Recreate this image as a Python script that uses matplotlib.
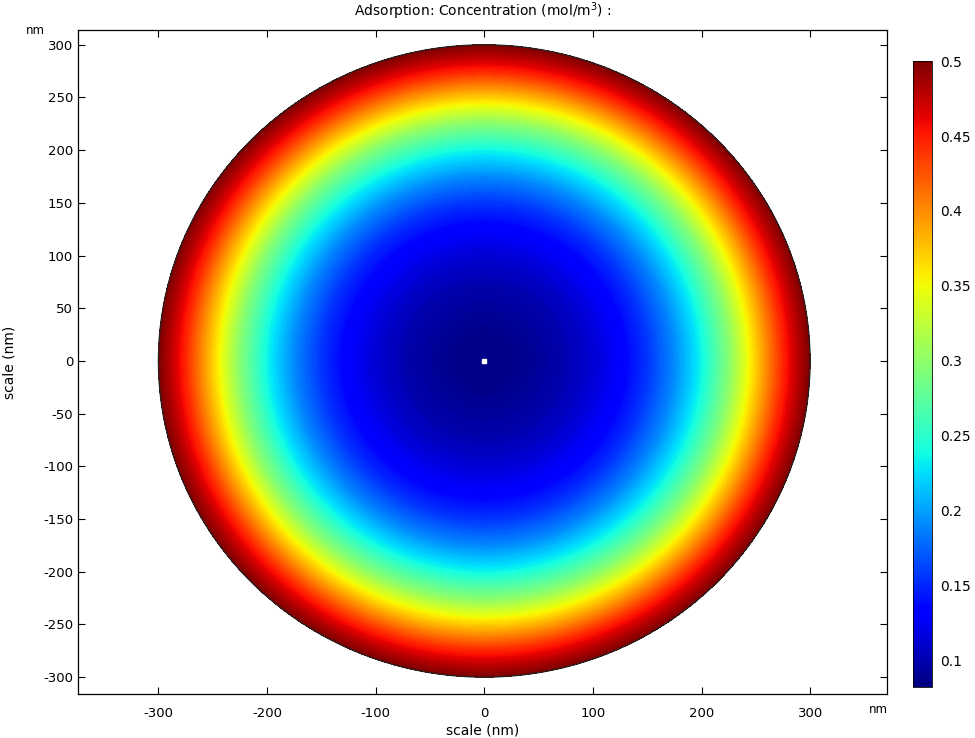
import numpy as np
import matplotlib
matplotlib.use("Agg")
import matplotlib.pyplot as plt

# radial concentration profile (disk of radius 300 nm)
radius_nm = [0, 25, 50, 75, 100, 125, 150, 175, 200, 225, 250, 275, 290, 300]
conc = [0.085, 0.087, 0.092, 0.100, 0.113, 0.130, 0.155, 0.190, 0.235,
        0.295, 0.370, 0.445, 0.480, 0.500]

XTICKS = [-300, -200, -100, 0, 100, 200, 300]
YTICKS = [-300, -250, -200, -150, -100, -50, 0, 50, 100, 150, 200, 250, 300]
CBAR_TICKS = [0.1, 0.15, 0.2, 0.25, 0.3, 0.35, 0.4, 0.45, 0.5]
VMIN, VMAX = 0.082, 0.5

plt.rcParams["font.family"] = "DejaVu Sans"
plt.rcParams["axes.unicode_minus"] = False

fig = plt.figure(figsize=(9.75, 7.38), dpi=100)
ax = fig.add_axes([0.080, 0.0596, 0.830, 0.8997])
cax = fig.add_axes([0.936, 0.069, 0.0195, 0.848])

# polar mesh, values along radius; contourf fills smoothly between rings
theta = np.linspace(0, 2 * np.pi, 361)
R, T = np.meshgrid(np.array(radius_nm, float), theta)
C = np.tile(np.array(conc, float), (len(theta), 1))
X, Y = R * np.cos(T), R * np.sin(T)
levels = np.linspace(VMIN, VMAX, 300)
cf = ax.contourf(X, Y, C, levels=levels, cmap="jet", vmin=VMIN, vmax=VMAX,
                 extend="both", zorder=1)

# thin dark boundary of the disk
ax.plot(radius_nm[-1] * np.cos(theta), radius_nm[-1] * np.sin(theta),
        color="#222222", lw=0.9, zorder=2)
# point at origin
ax.plot([0], [0], marker="s", ms=3.5, color="white", mec="white", zorder=3)

ax.set_xlim(-374, 371)
ax.set_ylim(-316, 314)
ax.set_xticks(XTICKS)
ax.set_yticks(YTICKS)
ax.tick_params(direction="in", top=True, right=True, labelsize=9.5,
               length=5, width=0.8)
ax.tick_params(axis="x", pad=9)
for s in ax.spines.values():
    s.set_linewidth(0.9)

ax.set_xlabel("scale (nm)", fontsize=10, labelpad=3)
ax.set_ylabel("scale (nm)", fontsize=10, labelpad=19)
ax.set_title("Adsorption: Concentration (mol/m$^3$) :", fontsize=10, pad=10)
fig.text(0.036, 0.959, "nm", fontsize=8.5, ha="center", va="center")
fig.text(0.901, 0.038, "nm", fontsize=8.5, ha="center", va="center")

sm = plt.cm.ScalarMappable(cmap="jet", norm=plt.Normalize(VMIN, VMAX))
cb = fig.colorbar(sm, cax=cax, ticks=CBAR_TICKS)
cb.ax.set_yticklabels([f"{t:g}" for t in CBAR_TICKS])
cb.ax.tick_params(labelsize=10, length=0, pad=6)
cb.outline.set_linewidth(0.6)

fig.savefig("out.png", dpi=100)
